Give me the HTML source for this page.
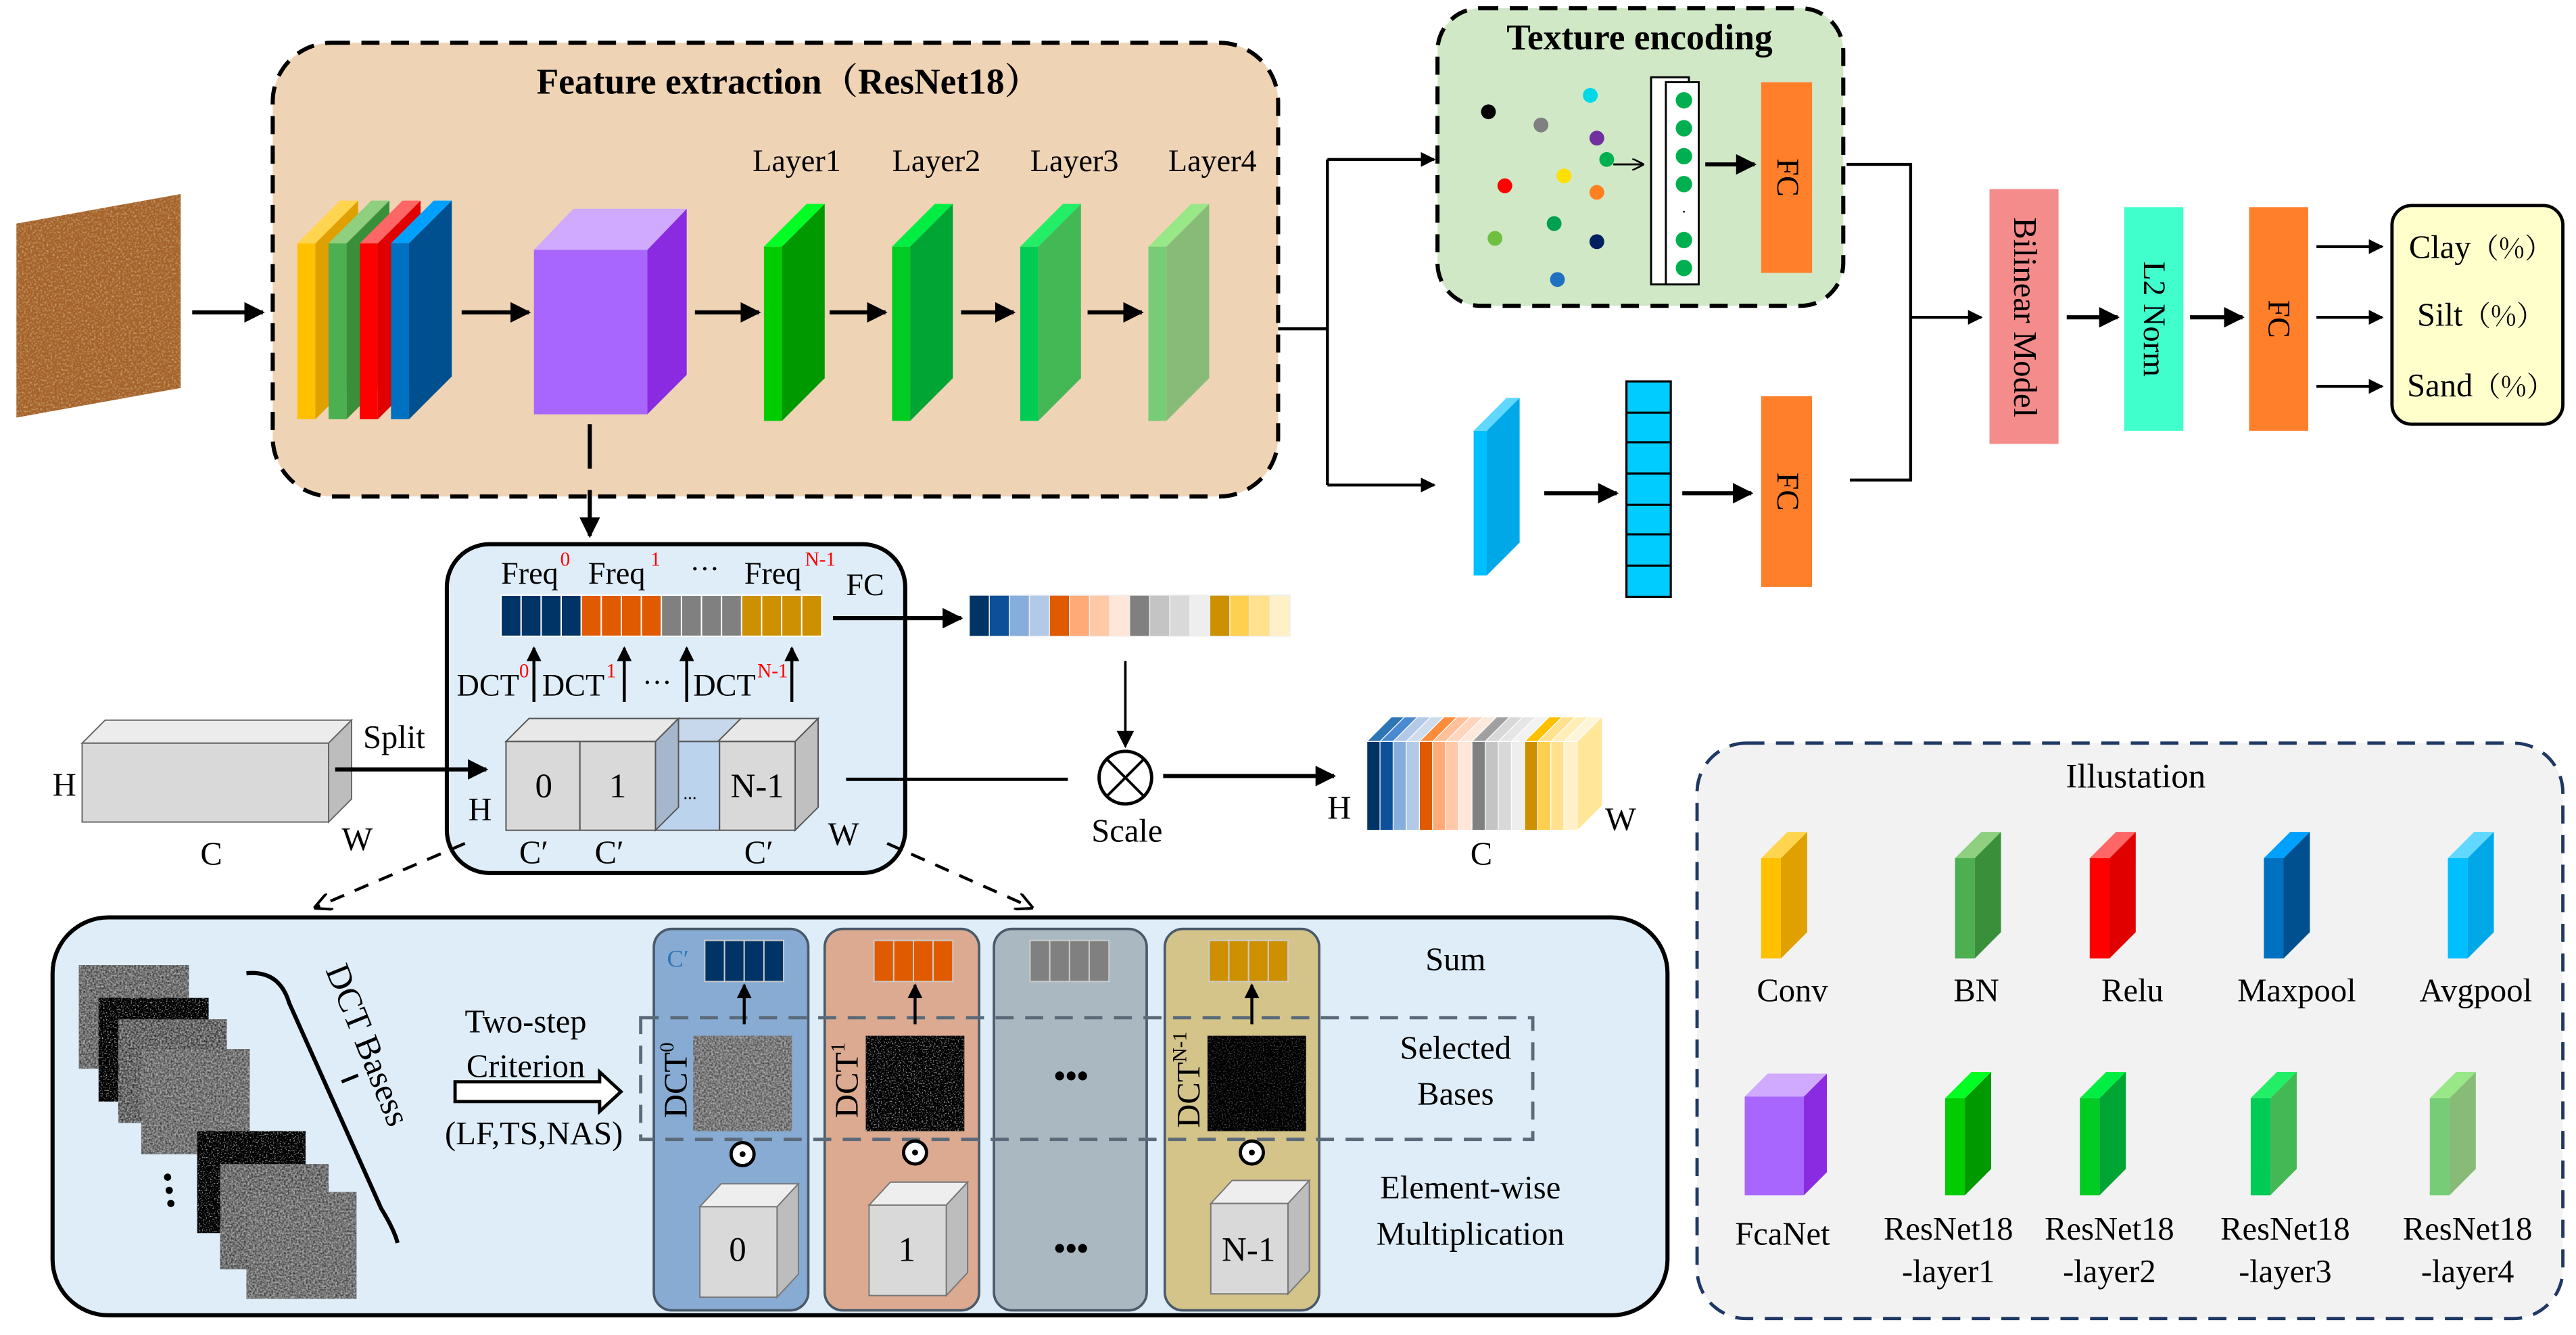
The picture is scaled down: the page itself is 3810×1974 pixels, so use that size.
<!DOCTYPE html>
<html><head><meta charset="utf-8"><style>
html,body{margin:0;padding:0;background:#fff;}
svg{display:block;font-family:'Liberation Serif','Times New Roman',serif;}
svg text{font-family:'Liberation Serif','Times New Roman',serif;}
</style></head><body>
<svg width="3810" height="1974" viewBox="0 0 1568 812" preserveAspectRatio="none" xmlns="http://www.w3.org/2000/svg" font-family="Liberation Serif, serif">
<defs>
<marker id="ah" viewBox="0 0 10 10" refX="9" refY="5" markerWidth="5" markerHeight="5" orient="auto-start-reverse"><path d="M0,0 L10,5 L0,10 z" fill="#000"/></marker>
<marker id="ahs" viewBox="0 0 10 10" refX="9" refY="5" markerWidth="7" markerHeight="7" orient="auto"><path d="M0,0 L10,5 L0,10 z" fill="#000"/></marker>
<marker id="ao" viewBox="0 0 10 10" refX="9" refY="5" markerWidth="6" markerHeight="6" orient="auto"><path d="M0,0 L10,5 L0,10" fill="none" stroke="#000" stroke-width="1.5"/></marker>
<filter id="noise" x="0" y="0" width="100%" height="100%"><feTurbulence type="fractalNoise" baseFrequency="0.9" numOctaves="2" seed="3"/><feColorMatrix type="matrix" values="0 0 0 0 0.45  0 0 0 0 0.45  0 0 0 0 0.45  0 0 0 1.6 -0.3"/><feComposite in2="SourceGraphic" operator="in"/></filter>
<filter id="noise2" x="0" y="0" width="100%" height="100%"><feTurbulence type="fractalNoise" baseFrequency="1.2" numOctaves="1" seed="7"/><feColorMatrix type="matrix" values="0 0 0 0 0.8  0 0 0 0 0.8  0 0 0 0 0.8  0 0 0 3 -1.6"/><feComposite in2="SourceGraphic" operator="in"/></filter>
<filter id="soil" x="0" y="0" width="100%" height="100%"><feTurbulence type="fractalNoise" baseFrequency="0.8" numOctaves="2" seed="5"/><feColorMatrix type="matrix" values="0 0 0 0 0.9  0 0 0 0 0.75  0 0 0 0 0.5  0 0 0 2 -0.9"/><feComposite in2="SourceGraphic" operator="in"/></filter>
</defs>

<!-- soil image -->
<polygon points="10,136 110,118 110,236 10,254" fill="#a4622a"/>
<polygon points="10,136 110,118 110,236 10,254" fill="#000" filter="url(#soil)" opacity="0.6"/>
<line x1="117" y1="190" x2="160" y2="190" stroke="#000" stroke-width="2.5" marker-end="url(#ah)"/>

<!-- Feature extraction box -->
<rect x="166" y="26" width="612" height="276" rx="36" fill="#efd3b5" stroke="#000" stroke-width="2.5" stroke-dasharray="11,7"/>
<text x="480" y="57" font-size="22" font-weight="bold" text-anchor="middle">Feature extraction<tspan font-family="Noto Serif CJK SC, serif">（</tspan>ResNet18<tspan font-family="Noto Serif CJK SC, serif">）</tspan></text>
<text x="485" y="104" font-size="19" text-anchor="middle">Layer1</text>
<text x="570" y="104" font-size="19" text-anchor="middle">Layer2</text>
<text x="654" y="104" font-size="19" text-anchor="middle">Layer3</text>
<text x="738" y="104" font-size="19" text-anchor="middle">Layer4</text>

<!-- conv stack -->
<g>
<rect x="181" y="148" width="11" height="107" fill="#ffc000"/><polygon points="192,148 218,122 218,229 192,255" fill="#e0a000"/><polygon points="181,148 207,122 218,122 192,148" fill="#ffd54f"/>
<rect x="200" y="148" width="11" height="107" fill="#4caf50"/><polygon points="211,148 237,122 237,229 211,255" fill="#3a8f3a"/><polygon points="200,148 226,122 237,122 211,148" fill="#8ecf80"/>
<rect x="219" y="148" width="11" height="107" fill="#ff0000"/><polygon points="230,148 256,122 256,229 230,255" fill="#e00000"/><polygon points="219,148 245,122 256,122 230,148" fill="#ff6666"/>
<rect x="238" y="148" width="11" height="107" fill="#0070c0"/><polygon points="249,148 275,122 275,229 249,255" fill="#00508f"/><polygon points="238,148 264,122 275,122 249,148" fill="#00a0ff"/>
</g>
<line x1="281" y1="190" x2="322" y2="190" stroke="#000" stroke-width="2.5" marker-end="url(#ah)"/>
<rect x="325" y="152" width="69" height="100" fill="#a866ff"/><polygon points="394,152 418,127 418,228 394,252" fill="#8a2be2"/><polygon points="325,152 349,127 418,127 394,152" fill="#cfaaff"/>
<line x1="423" y1="190" x2="462" y2="190" stroke="#000" stroke-width="2.5" marker-end="url(#ah)"/>
<rect x="465" y="150" width="11" height="106" fill="#00cc00"/><polygon points="476,150 502,124 502,230 476,256" fill="#009900"/><polygon points="465,150 491,124 502,124 476,150" fill="#00ff22"/>
<line x1="505" y1="190" x2="539" y2="190" stroke="#000" stroke-width="2.5" marker-end="url(#ah)"/>
<rect x="543" y="150" width="11" height="106" fill="#00cc22"/><polygon points="554,150 580,124 580,230 554,256" fill="#00a533"/><polygon points="543,150 569,124 580,124 554,150" fill="#00ee44"/>
<line x1="585" y1="190" x2="617" y2="190" stroke="#000" stroke-width="2.5" marker-end="url(#ah)"/>
<rect x="621" y="150" width="11" height="106" fill="#00cc55"/><polygon points="632,150 658,124 658,230 632,256" fill="#44b855"/><polygon points="621,150 647,124 658,124 632,150" fill="#22ee66"/>
<line x1="662" y1="190" x2="695" y2="190" stroke="#000" stroke-width="2.5" marker-end="url(#ah)"/>
<rect x="699" y="150" width="11" height="106" fill="#77cc77"/><polygon points="710,150 736,124 736,230 710,256" fill="#88bb77"/><polygon points="699,150 725,124 736,124 710,150" fill="#99e888"/>

<line x1="359" y1="258" x2="359" y2="285" stroke="#000" stroke-width="2.5"/>
<line x1="359" y1="298" x2="359" y2="326" stroke="#000" stroke-width="2.5" marker-end="url(#ah)"/>

<polyline points="778,200 808,200" fill="none" stroke="#000" stroke-width="1.8"/>
<line x1="808" y1="97" x2="808" y2="295" stroke="#000" stroke-width="1.8"/>
<line x1="808" y1="97" x2="873" y2="97" stroke="#000" stroke-width="1.8" marker-end="url(#ah)"/>
<line x1="808" y1="295" x2="873" y2="295" stroke="#000" stroke-width="1.8" marker-end="url(#ah)"/>

<!-- Texture encoding -->
<rect x="875" y="5" width="247" height="181" rx="26" fill="#d0e8c6" stroke="#000" stroke-width="2.5" stroke-dasharray="11,7"/>
<text x="998" y="30" font-size="22" font-weight="bold" text-anchor="middle">Texture encoding</text>
<circle cx="906" cy="68" r="4.5" fill="#000"/>
<circle cx="938" cy="76" r="4.5" fill="#808080"/>
<circle cx="968" cy="58" r="4.5" fill="#00d8e8"/>
<circle cx="972" cy="84" r="4.5" fill="#7030a0"/>
<circle cx="916" cy="113" r="4.5" fill="#ff0000"/>
<circle cx="952" cy="107" r="4.5" fill="#ffe000"/>
<circle cx="978" cy="97" r="4.5" fill="#00b050"/>
<circle cx="972" cy="117" r="4.5" fill="#ff8020"/>
<circle cx="946" cy="136" r="4.5" fill="#00a050"/>
<circle cx="910" cy="145" r="4.5" fill="#70c040"/>
<circle cx="972" cy="147" r="4.5" fill="#002060"/>
<circle cx="948" cy="170" r="4.5" fill="#2070c0"/>
<line x1="982" y1="100" x2="1000" y2="100" stroke="#000" stroke-width="1.2" marker-end="url(#ao)"/>
<rect x="1005" y="47" width="23" height="126" fill="#fff" stroke="#000" stroke-width="1.2"/>
<rect x="1014" y="50" width="20" height="123" fill="#fff" stroke="#000" stroke-width="1.2"/>
<circle cx="1025" cy="61" r="5" fill="#00b050"/><circle cx="1025" cy="78" r="5" fill="#00b050"/><circle cx="1025" cy="95" r="5" fill="#00b050"/><circle cx="1025" cy="112" r="5" fill="#00b050"/>
<text x="1025" y="132" font-size="10" text-anchor="middle">·</text>
<circle cx="1025" cy="146" r="5" fill="#00b050"/><circle cx="1025" cy="163" r="5" fill="#00b050"/>
<line x1="1038" y1="100" x2="1068" y2="100" stroke="#000" stroke-width="2.5" marker-end="url(#ah)"/>
<rect x="1072" y="50" width="31" height="116" fill="#ff7f2a"/>
<text transform="translate(1082,108) rotate(90)" font-size="19" text-anchor="middle">FC</text>

<rect x="897" y="262" width="8" height="88" fill="#00bfff"/><polygon points="905,262 925,242 925,330 905,350" fill="#00a8e8"/><polygon points="897,262 917,242 925,242 905,262" fill="#60d8ff"/>
<line x1="940" y1="300" x2="984" y2="300" stroke="#000" stroke-width="2.5" marker-end="url(#ah)"/>
<rect x="990" y="232" width="27" height="131" fill="#00ccff" stroke="#000" stroke-width="1.3"/>
<line x1="990" y1="251" x2="1017" y2="251" stroke="#000" stroke-width="1.3"/>
<line x1="990" y1="269" x2="1017" y2="269" stroke="#000" stroke-width="1.3"/>
<line x1="990" y1="288" x2="1017" y2="288" stroke="#000" stroke-width="1.3"/>
<line x1="990" y1="307" x2="1017" y2="307" stroke="#000" stroke-width="1.3"/>
<line x1="990" y1="325" x2="1017" y2="325" stroke="#000" stroke-width="1.3"/>
<line x1="990" y1="344" x2="1017" y2="344" stroke="#000" stroke-width="1.3"/>
<line x1="1024" y1="300" x2="1066" y2="300" stroke="#000" stroke-width="2.5" marker-end="url(#ah)"/>
<rect x="1072" y="241" width="31" height="116" fill="#ff7f2a"/>
<text transform="translate(1082,299) rotate(90)" font-size="19" text-anchor="middle">FC</text>

<polyline points="1124,100 1163,100 1163,292 1126,292" fill="none" stroke="#000" stroke-width="1.8"/>
<line x1="1163" y1="193" x2="1206" y2="193" stroke="#000" stroke-width="1.8" marker-end="url(#ah)"/>
<rect x="1211" y="115" width="42" height="155" fill="#f48c8c"/>
<text transform="translate(1226,193) rotate(90)" font-size="20" text-anchor="middle">Bilinear Model</text>
<line x1="1258" y1="193" x2="1289" y2="193" stroke="#000" stroke-width="2.5" marker-end="url(#ah)"/>
<rect x="1293" y="126" width="36" height="136" fill="#40ffcc"/>
<text transform="translate(1305,194) rotate(90)" font-size="19" text-anchor="middle">L2 Norm</text>
<line x1="1333" y1="193" x2="1365" y2="193" stroke="#000" stroke-width="2.5" marker-end="url(#ah)"/>
<rect x="1369" y="126" width="36" height="136" fill="#ff7f2a"/>
<text transform="translate(1381,194) rotate(90)" font-size="19" text-anchor="middle">FC</text>
<line x1="1410" y1="150" x2="1450" y2="150" stroke="#000" stroke-width="1.8" marker-end="url(#ah)"/>
<line x1="1410" y1="193" x2="1450" y2="193" stroke="#000" stroke-width="1.8" marker-end="url(#ah)"/>
<line x1="1410" y1="235" x2="1450" y2="235" stroke="#000" stroke-width="1.8" marker-end="url(#ah)"/>
<rect x="1456" y="125" width="104" height="133" rx="12" fill="#ffffcc" stroke="#000" stroke-width="2"/>
<text x="1510" y="157" font-size="20" text-anchor="middle">Clay<tspan font-family="Noto Serif CJK SC, serif" font-size="17">（%）</tspan></text>
<text x="1510" y="198" font-size="20" text-anchor="middle">Silt<tspan font-family="Noto Serif CJK SC, serif" font-size="17">（%）</tspan></text>
<text x="1510" y="241" font-size="20" text-anchor="middle">Sand<tspan font-family="Noto Serif CJK SC, serif" font-size="17">（%）</tspan></text>

<!-- FcaNet box -->
<rect x="272" y="331" width="279" height="200" rx="26" fill="#deedf8" stroke="#000" stroke-width="2.5"/>
<text x="305" y="355" font-size="19">Freq</text><text x="341" y="344" font-size="12" fill="#ff0000">0</text>
<text x="358" y="355" font-size="19">Freq</text><text x="396" y="344" font-size="12" fill="#ff0000">1</text>
<text x="420" y="352" font-size="18">···</text>
<text x="453" y="355" font-size="19">Freq</text><text x="490" y="344" font-size="12" fill="#ff0000">N-1</text>
<text x="515" y="362" font-size="19">FC</text>
<g stroke="#fff" stroke-width="0.8">
<rect x="305" y="362" width="12.2" height="25" fill="#003366"/><rect x="317.2" y="362" width="12.2" height="25" fill="#003366"/><rect x="329.4" y="362" width="12.2" height="25" fill="#003366"/><rect x="341.6" y="362" width="12.2" height="25" fill="#003366"/>
<rect x="353.8" y="362" width="12.2" height="25" fill="#e05a00"/><rect x="366" y="362" width="12.2" height="25" fill="#e05a00"/><rect x="378.2" y="362" width="12.2" height="25" fill="#e05a00"/><rect x="390.4" y="362" width="12.2" height="25" fill="#e05a00"/>
<rect x="402.6" y="362" width="12.2" height="25" fill="#808080"/><rect x="414.8" y="362" width="12.2" height="25" fill="#808080"/><rect x="427" y="362" width="12.2" height="25" fill="#808080"/><rect x="439.2" y="362" width="12.2" height="25" fill="#808080"/>
<rect x="451.4" y="362" width="12.2" height="25" fill="#cc9000"/><rect x="463.6" y="362" width="12.2" height="25" fill="#cc9000"/><rect x="475.8" y="362" width="12.2" height="25" fill="#cc9000"/><rect x="488" y="362" width="12.2" height="25" fill="#cc9000"/>
</g>
<line x1="507" y1="376" x2="585" y2="376" stroke="#000" stroke-width="2.5" marker-end="url(#ah)"/>
<g stroke="#eee" stroke-width="0.6">
<rect x="590" y="362" width="12.2" height="25" fill="#003366"/><rect x="602.2" y="362" width="12.2" height="25" fill="#0d4f99"/><rect x="614.4" y="362" width="12.2" height="25" fill="#86aedc"/><rect x="626.6" y="362" width="12.2" height="25" fill="#b3c9e8"/>
<rect x="638.8" y="362" width="12.2" height="25" fill="#e05a00"/><rect x="651" y="362" width="12.2" height="25" fill="#ffaa77"/><rect x="663.2" y="362" width="12.2" height="25" fill="#ffc9a8"/><rect x="675.4" y="362" width="12.2" height="25" fill="#ffe6d8"/>
<rect x="687.6" y="362" width="12.2" height="25" fill="#808080"/><rect x="699.8" y="362" width="12.2" height="25" fill="#c4c4c4"/><rect x="712" y="362" width="12.2" height="25" fill="#d9d9d9"/><rect x="724.2" y="362" width="12.2" height="25" fill="#eeeeee"/>
<rect x="736.4" y="362" width="12.2" height="25" fill="#cc9000"/><rect x="748.6" y="362" width="12.2" height="25" fill="#ffd050"/><rect x="760.8" y="362" width="12.2" height="25" fill="#ffe18e"/><rect x="773" y="362" width="12.2" height="25" fill="#fff0c8"/>
</g>
<text x="278" y="423" font-size="19">DCT</text><text x="316" y="412" font-size="12" fill="#ff0000">0</text>
<text x="330" y="423" font-size="19">DCT</text><text x="369" y="412" font-size="12" fill="#ff0000">1</text>
<text x="391" y="421" font-size="18">···</text>
<text x="422" y="423" font-size="19">DCT</text><text x="461" y="412" font-size="12" fill="#ff0000">N-1</text>
<line x1="325" y1="427" x2="325" y2="394" stroke="#000" stroke-width="1.8" marker-end="url(#ah)"/>
<line x1="380" y1="427" x2="380" y2="394" stroke="#000" stroke-width="1.8" marker-end="url(#ah)"/>
<line x1="418" y1="427" x2="418" y2="394" stroke="#000" stroke-width="1.8" marker-end="url(#ah)"/>
<line x1="482" y1="427" x2="482" y2="394" stroke="#000" stroke-width="1.8" marker-end="url(#ah)"/>
<g stroke="#555" stroke-width="0.8">
<polygon points="308,451 322,437 498,437 484,451" fill="#e8e8e8"/>
<polygon points="399,451 413,437 451,437 437,451" fill="#c8d8ec"/>
<polygon points="484,451 498,437 498,491 484,505" fill="#c0c0c0"/>
<rect x="308" y="451" width="45" height="54" fill="#d9d9d9"/>
<rect x="353" y="451" width="46" height="54" fill="#d9d9d9"/>
<rect x="399" y="451" width="39" height="54" fill="#bcd3ee"/>
<polygon points="399,451 413,437 413,491 399,505" fill="#a6b6cc"/>
<rect x="438" y="451" width="46" height="54" fill="#d9d9d9"/>
</g>
<text x="331" y="485" font-size="21" text-anchor="middle">0</text>
<text x="376" y="485" font-size="21" text-anchor="middle">1</text>
<text x="420" y="486" font-size="11" text-anchor="middle">...</text>
<text x="461" y="485" font-size="21" text-anchor="middle">N-1</text>
<text x="285" y="499" font-size="20">H</text>
<text x="316" y="525" font-size="20">C′</text>
<text x="362" y="525" font-size="20">C′</text>
<text x="453" y="525" font-size="20">C′</text>
<text x="504" y="514" font-size="20">W</text>
<g stroke="#666" stroke-width="0.8">
<polygon points="50,452 64,438 214,438 200,452" fill="#ececec"/>
<polygon points="200,452 214,438 214,486 200,500" fill="#bdbdbd"/>
<rect x="50" y="452" width="150" height="48" fill="#d9d9d9"/>
</g>
<text x="32" y="484" font-size="20">H</text>
<text x="122" y="526" font-size="20">C</text>
<text x="208" y="517" font-size="20">W</text>
<text x="221" y="455" font-size="20">Split</text>
<line x1="204" y1="468" x2="296" y2="468" stroke="#000" stroke-width="2.5" marker-end="url(#ah)"/>
<line x1="515" y1="474" x2="650" y2="474" stroke="#000" stroke-width="2"/>
<line x1="685" y1="402" x2="685" y2="454" stroke="#000" stroke-width="1.5" marker-end="url(#ahs)"/>
<circle cx="685" cy="473" r="16" fill="#fff" stroke="#000" stroke-width="2"/>
<line x1="674" y1="462" x2="696" y2="484" stroke="#000" stroke-width="1.6"/>
<line x1="696" y1="462" x2="674" y2="484" stroke="#000" stroke-width="1.6"/>
<text x="686" y="512" font-size="20" text-anchor="middle">Scale</text>
<line x1="708" y1="472" x2="812" y2="472" stroke="#000" stroke-width="2.5" marker-end="url(#ah)"/>
<g>
<polygon points="960,451 975,436 975,490 960,505" fill="#ffe699"/>
<g stroke="#fff" stroke-width="0.5">
<polygon points="832,451 847,436 855,436 840,451" fill="#2e75b6"/><polygon points="840,451 855,436 863,436 848,451" fill="#4a8ad0"/><polygon points="848,451 863,436 871,436 856,451" fill="#b3c9e8"/><polygon points="856,451 871,436 879,436 864,451" fill="#cfdcee"/>
<polygon points="864,451 879,436 887,436 872,451" fill="#ff8c3a"/><polygon points="872,451 887,436 895,436 880,451" fill="#ffc09a"/><polygon points="880,451 895,436 903,436 888,451" fill="#ffd5bd"/><polygon points="888,451 903,436 911,436 896,451" fill="#fde8dc"/>
<polygon points="896,451 911,436 919,436 904,451" fill="#a0a0a0"/><polygon points="904,451 919,436 927,436 912,451" fill="#d8d8d8"/><polygon points="912,451 927,436 935,436 920,451" fill="#e6e6e6"/><polygon points="920,451 935,436 943,436 928,451" fill="#f2f2f2"/>
<polygon points="928,451 943,436 951,436 936,451" fill="#ffc000"/><polygon points="936,451 951,436 959,436 944,451" fill="#ffe18e"/><polygon points="944,451 959,436 967,436 952,451" fill="#ffeeb8"/><polygon points="952,451 967,436 975,436 960,451" fill="#fff5d8"/>
<rect x="832" y="451" width="8" height="54" fill="#003366"/><rect x="840" y="451" width="8" height="54" fill="#0d4f99"/><rect x="848" y="451" width="8" height="54" fill="#86aedc"/><rect x="856" y="451" width="8" height="54" fill="#b3c9e8"/>
<rect x="864" y="451" width="8" height="54" fill="#e05a00"/><rect x="872" y="451" width="8" height="54" fill="#ffaa77"/><rect x="880" y="451" width="8" height="54" fill="#ffc9a8"/><rect x="888" y="451" width="8" height="54" fill="#ffe6d8"/>
<rect x="896" y="451" width="8" height="54" fill="#808080"/><rect x="904" y="451" width="8" height="54" fill="#c4c4c4"/><rect x="912" y="451" width="8" height="54" fill="#d9d9d9"/><rect x="920" y="451" width="8" height="54" fill="#eeeeee"/>
<rect x="928" y="451" width="8" height="54" fill="#cc9000"/><rect x="936" y="451" width="8" height="54" fill="#ffd050"/><rect x="944" y="451" width="8" height="54" fill="#ffe18e"/><rect x="952" y="451" width="8" height="54" fill="#fff0c8"/>
</g></g>
<text x="808" y="498" font-size="20">H</text>
<text x="895" y="526" font-size="20">C</text>
<text x="977" y="505" font-size="20">W</text>

<line x1="283" y1="513" x2="192" y2="552" stroke="#000" stroke-width="1.8" stroke-dasharray="9,7" marker-end="url(#ao)"/>
<line x1="540" y1="513" x2="628" y2="552" stroke="#000" stroke-width="1.8" stroke-dasharray="9,7" marker-end="url(#ao)"/>

<!-- bottom box -->
<rect x="32" y="558" width="983" height="242" rx="34" fill="#deedf8" stroke="#000" stroke-width="2.5"/>
<g>
<rect x="48" y="587" width="67" height="63" fill="#333"/><rect x="48" y="587" width="67" height="63" fill="#fff" filter="url(#noise)"/>
<rect x="60" y="607" width="67" height="63" fill="#000"/><rect x="60" y="607" width="67" height="63" fill="#fff" filter="url(#noise2)"/>
<rect x="72" y="620" width="66" height="63" fill="#222"/><rect x="72" y="620" width="66" height="63" fill="#fff" filter="url(#noise)"/>
<rect x="86" y="638" width="66" height="64" fill="#3a3a3a"/><rect x="86" y="638" width="66" height="64" fill="#fff" filter="url(#noise)"/>
<rect x="120" y="688" width="66" height="62" fill="#000"/><rect x="120" y="688" width="66" height="62" fill="#fff" filter="url(#noise2)"/>
<rect x="134" y="708" width="66" height="64" fill="#333"/><rect x="134" y="708" width="66" height="64" fill="#fff" filter="url(#noise)"/>
<rect x="150" y="725" width="67" height="65" fill="#3a3a3a"/><rect x="150" y="725" width="67" height="65" fill="#fff" filter="url(#noise)"/>
</g>
<circle cx="102" cy="716" r="2.2" fill="#000"/><circle cx="103" cy="724" r="2.2" fill="#000"/><circle cx="104" cy="732" r="2.2" fill="#000"/>
<path d="M150,592 Q170,590 176,610 L232,735 Q240,748 242,756" fill="none" stroke="#000" stroke-width="2.5"/>
<line x1="208" y1="658" x2="218" y2="654" stroke="#000" stroke-width="2"/>
<text transform="translate(198,590) rotate(68)" font-size="21">DCT Basess</text>
<text x="320" y="628" font-size="20" text-anchor="middle">Two-step</text>
<text x="320" y="655" font-size="20" text-anchor="middle">Criterion</text>
<polygon points="277,658 365,658 365,652 378,664 365,676 365,670 277,670" fill="#fff" stroke="#000" stroke-width="2"/>
<text x="325" y="696" font-size="20" text-anchor="middle">(LF,TS,NAS)</text>

<rect x="398" y="565" width="94" height="232" rx="11" fill="#87abd3" stroke="#4a5a6a" stroke-width="1.5"/>
<rect x="502" y="565" width="94" height="232" rx="11" fill="#dbaa90" stroke="#4a5a6a" stroke-width="1.5"/>
<rect x="605" y="565" width="93" height="232" rx="11" fill="#aab8c2" stroke="#4a5a6a" stroke-width="1.5"/>
<rect x="709" y="565" width="94" height="232" rx="11" fill="#d4c48a" stroke="#4a5a6a" stroke-width="1.5"/>
<g stroke="#ccc" stroke-width="0.8">
<rect x="429" y="572" width="12" height="25" fill="#003366"/><rect x="441" y="572" width="12" height="25" fill="#003366"/><rect x="453" y="572" width="12" height="25" fill="#003366"/><rect x="465" y="572" width="12" height="25" fill="#003366"/>
<rect x="532" y="572" width="12" height="25" fill="#e05a00"/><rect x="544" y="572" width="12" height="25" fill="#e05a00"/><rect x="556" y="572" width="12" height="25" fill="#e05a00"/><rect x="568" y="572" width="12" height="25" fill="#e05a00"/>
<rect x="627" y="572" width="12" height="25" fill="#808080"/><rect x="639" y="572" width="12" height="25" fill="#808080"/><rect x="651" y="572" width="12" height="25" fill="#808080"/><rect x="663" y="572" width="12" height="25" fill="#808080"/>
<rect x="736" y="572" width="12" height="25" fill="#cc9000"/><rect x="748" y="572" width="12" height="25" fill="#cc9000"/><rect x="760" y="572" width="12" height="25" fill="#cc9000"/><rect x="772" y="572" width="12" height="25" fill="#cc9000"/>
</g>
<text x="406" y="588" font-size="15" fill="#2e75b6">C′</text>
<rect x="390" y="619" width="543" height="74" fill="none" stroke="#5a6a78" stroke-width="2" stroke-dasharray="11,7"/>
<line x1="453" y1="623" x2="453" y2="599" stroke="#000" stroke-width="1.8" marker-end="url(#ah)"/>
<line x1="557" y1="623" x2="557" y2="599" stroke="#000" stroke-width="1.8" marker-end="url(#ah)"/>
<line x1="762" y1="623" x2="762" y2="599" stroke="#000" stroke-width="1.8" marker-end="url(#ah)"/>
<rect x="422" y="630" width="60" height="58" fill="#444"/><rect x="422" y="630" width="60" height="58" fill="#fff" filter="url(#noise)"/>
<rect x="527" y="630" width="60" height="58" fill="#000"/><rect x="527" y="630" width="60" height="58" fill="#fff" filter="url(#noise2)"/>
<rect x="735" y="630" width="60" height="58" fill="#000"/><rect x="735" y="630" width="60" height="58" fill="#fff" filter="url(#noise2)" opacity="0.5"/>
<text transform="translate(418,680) rotate(-90)" font-size="20">DCT<tspan font-size="12" dy="-8">0</tspan></text>
<text transform="translate(522,680) rotate(-90)" font-size="20">DCT<tspan font-size="12" dy="-8">1</tspan></text>
<text transform="translate(730,686) rotate(-90)" font-size="20">DCT<tspan font-size="12" dy="-8">N-1</tspan></text>
<text x="652" y="661" font-size="20" font-weight="bold" text-anchor="middle">•••</text>
<text x="652" y="766" font-size="20" font-weight="bold" text-anchor="middle">•••</text>
<g>
<circle cx="452" cy="702" r="7" fill="#fff" stroke="#000" stroke-width="2"/><circle cx="452" cy="702" r="1.8" fill="#000"/>
<circle cx="557" cy="701" r="7" fill="#fff" stroke="#000" stroke-width="2"/><circle cx="557" cy="701" r="1.8" fill="#000"/>
<circle cx="762" cy="701" r="7" fill="#fff" stroke="#000" stroke-width="2"/><circle cx="762" cy="701" r="1.8" fill="#000"/>
</g>
<g stroke="#777" stroke-width="0.8">
<polygon points="426,734 439,720 486,720 473,734" fill="#eeeeee"/><polygon points="473,734 486,720 486,775 473,789" fill="#bdbdbd"/><rect x="426" y="734" width="47" height="55" fill="#d9d9d9"/>
<polygon points="529,733 542,719 589,719 576,733" fill="#eeeeee"/><polygon points="576,733 589,719 589,774 576,788" fill="#bdbdbd"/><rect x="529" y="733" width="47" height="55" fill="#d9d9d9"/>
<polygon points="737,732 750,718 797,718 784,732" fill="#eeeeee"/><polygon points="784,732 797,718 797,773 784,787" fill="#bdbdbd"/><rect x="737" y="732" width="47" height="55" fill="#d9d9d9"/>
</g>
<text x="449" y="767" font-size="21" text-anchor="middle">0</text>
<text x="552" y="767" font-size="21" text-anchor="middle">1</text>
<text x="760" y="767" font-size="21" text-anchor="middle">N-1</text>
<text x="886" y="590" font-size="20" text-anchor="middle">Sum</text>
<text x="886" y="644" font-size="20" text-anchor="middle">Selected</text>
<text x="886" y="672" font-size="20" text-anchor="middle">Bases</text>
<text x="895" y="729" font-size="20" text-anchor="middle">Element-wise</text>
<text x="895" y="757" font-size="20" text-anchor="middle">Multiplication</text>

<!-- Illustration -->
<rect x="1033" y="452" width="527" height="350" rx="30" fill="#f2f2f2" stroke="#1f3864" stroke-width="2" stroke-dasharray="11,7"/>
<text x="1300" y="479" font-size="21" text-anchor="middle">Illustation</text>
<g>
<rect x="1072" y="522" width="12" height="61" fill="#ffc000"/><polygon points="1084,522 1100,506 1100,567 1084,583" fill="#e0a000"/><polygon points="1072,522 1088,506 1100,506 1084,522" fill="#ffd54f"/>
<rect x="1190" y="522" width="12" height="61" fill="#4caf50"/><polygon points="1202,522 1218,506 1218,567 1202,583" fill="#3a8f3a"/><polygon points="1190,522 1206,506 1218,506 1202,522" fill="#8ecf80"/>
<rect x="1272" y="522" width="12" height="61" fill="#ff0000"/><polygon points="1284,522 1300,506 1300,567 1284,583" fill="#e00000"/><polygon points="1272,522 1288,506 1300,506 1284,522" fill="#ff6666"/>
<rect x="1378" y="522" width="12" height="61" fill="#0070c0"/><polygon points="1390,522 1406,506 1406,567 1390,583" fill="#00508f"/><polygon points="1378,522 1394,506 1406,506 1390,522" fill="#00a0ff"/>
<rect x="1490" y="522" width="12" height="61" fill="#00bfff"/><polygon points="1502,522 1518,506 1518,567 1502,583" fill="#00a8e8"/><polygon points="1490,522 1506,506 1518,506 1502,522" fill="#60d8ff"/>
</g>
<text x="1091" y="609" font-size="20" text-anchor="middle">Conv</text>
<text x="1203" y="609" font-size="20" text-anchor="middle">BN</text>
<text x="1298" y="609" font-size="20" text-anchor="middle">Relu</text>
<text x="1398" y="609" font-size="20" text-anchor="middle">Maxpool</text>
<text x="1507" y="609" font-size="20" text-anchor="middle">Avgpool</text>
<rect x="1062" y="667" width="36" height="60" fill="#a866ff"/><polygon points="1098,667 1112,653 1112,713 1098,727" fill="#8a2be2"/><polygon points="1062,667 1076,653 1112,653 1098,667" fill="#cfaaff"/>
<rect x="1184" y="668" width="12" height="59" fill="#00cc00"/><polygon points="1196,668 1212,652 1212,711 1196,727" fill="#009900"/><polygon points="1184,668 1200,652 1212,652 1196,668" fill="#00ff22"/>
<rect x="1266" y="668" width="12" height="59" fill="#00cc22"/><polygon points="1278,668 1294,652 1294,711 1278,727" fill="#00a533"/><polygon points="1266,668 1282,652 1294,652 1278,668" fill="#00ee44"/>
<rect x="1370" y="668" width="12" height="59" fill="#00cc55"/><polygon points="1382,668 1398,652 1398,711 1382,727" fill="#44b855"/><polygon points="1370,668 1386,652 1398,652 1382,668" fill="#22ee66"/>
<rect x="1479" y="668" width="12" height="59" fill="#77cc77"/><polygon points="1491,668 1507,652 1507,711 1491,727" fill="#88bb77"/><polygon points="1479,668 1495,652 1507,652 1491,668" fill="#99e888"/>
<text x="1085" y="757" font-size="20" text-anchor="middle">FcaNet</text>
<text x="1186" y="754" font-size="20" text-anchor="middle">ResNet18</text><text x="1186" y="780" font-size="20" text-anchor="middle">-layer1</text>
<text x="1284" y="754" font-size="20" text-anchor="middle">ResNet18</text><text x="1284" y="780" font-size="20" text-anchor="middle">-layer2</text>
<text x="1391" y="754" font-size="20" text-anchor="middle">ResNet18</text><text x="1391" y="780" font-size="20" text-anchor="middle">-layer3</text>
<text x="1502" y="754" font-size="20" text-anchor="middle">ResNet18</text><text x="1502" y="780" font-size="20" text-anchor="middle">-layer4</text>
</svg>
</body></html>
